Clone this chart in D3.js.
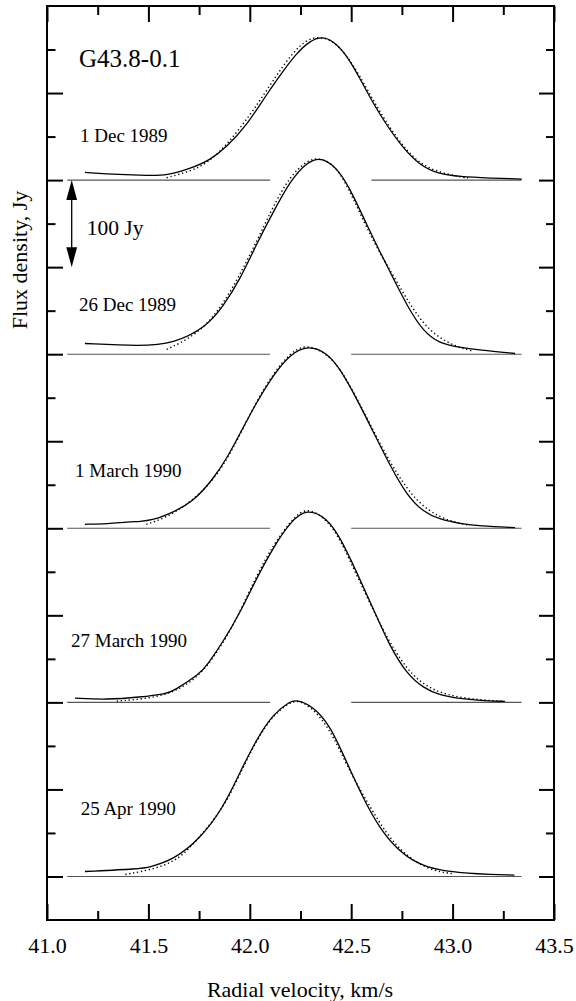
<!DOCTYPE html>
<html>
<head>
<meta charset="utf-8">
<script src="https://cdn.jsdelivr.net/npm/d3@7"></script>
<style>
  html, body { margin: 0; padding: 0; background: #fff; }
  svg text { font-family: "Liberation Serif", "Times New Roman", serif !important; fill: #000; }
</style>
</head>
<body>
<svg id="chart" width="576" height="1001"></svg>
<script>
// ---------------- DATA ----------------
const sourceName = "G43.8-0.1";
const dates = ["1 Dec 1989", "26 Dec 1989", "1 March 1990", "27 March 1990", "25 Apr 1990"];
const offsets = [800, 600, 400, 200, 0];            // vertical offset of each spectrum, Jy
const velocityTicks = [41.0, 41.5, 42.0, 42.5, 43.0, 43.5];
const velocityMinorTicks = [41.25, 41.75, 42.25, 42.75, 43.25];
const fluxMajorTicks = [0, 100, 200, 300, 400, 500, 600, 700, 800, 900];
const fluxMinorTicks = [50, 150, 250, 350, 450, 550, 650, 750, 850, 950];
const scaleBarJy = 100;

// baseline segments [vStart, vEnd] for each spectrum
const baselineSpans = [
  [[41.1, 42.1], [42.6, 43.34]],
  [[41.1, 42.1], [42.5, 43.34]],
  [[41.1, 42.1], [42.5, 43.34]],
  [[41.1, 42.1], [42.5, 43.34]],
  [[41.1, 43.34]]
];

// observed spectra: [radial velocity km/s, flux Jy]
const obsDec1 = [[41.187, 8.8], [41.36, 6.2], [41.50, 5.4], [41.59, 5.3], [41.705, 13], [41.804, 23], [41.886, 38],
  [41.985, 63], [42.075, 95.6], [42.149, 120.5], [42.231, 146], [42.297, 160], [42.355, 165], [42.412, 160],
  [42.478, 143.5], [42.543, 116.7], [42.609, 88], [42.675, 63], [42.757, 36.4], [42.839, 17.2], [42.922, 7.7],
  [43.036, 3.8], [43.184, 2.3], [43.341, 1.2]];
const obsDec26 = [[41.187, 12.3], [41.459, 9.2], [41.623, 12], [41.787, 31.4], [41.869, 55], [41.952, 86], [42.034, 127],
  [42.116, 163.4], [42.198, 198.5], [42.281, 221], [42.359, 227], [42.445, 210], [42.510, 182.5], [42.578, 148],
  [42.642, 117.5], [42.708, 86.9], [42.774, 56.3], [42.856, 25.6], [42.938, 12.3], [43.020, 8.4], [43.135, 4.6], [43.308, 0.8]];
const obsMar1 = [[41.187, 4.6], [41.30, 5.0], [41.40, 7.5], [41.46, 7.8], [41.52, 9.5], [41.59, 15], [41.721, 30], [41.82, 57],
  [41.886, 80], [41.952, 109], [42.034, 145], [42.116, 176], [42.198, 200], [42.288, 210.5], [42.379, 202],
  [42.445, 183.4], [42.527, 149], [42.609, 110.6], [42.691, 72.3], [42.774, 38], [42.856, 18.7], [42.938, 10],
  [43.036, 5.4], [43.135, 2.5], [43.308, 0.8]];
const obsMar27 = [[41.138, 4.9], [41.294, 3.1], [41.459, 6], [41.59, 10], [41.623, 13], [41.754, 33], [41.787, 42],
  [41.869, 70], [41.952, 103], [42.034, 143], [42.116, 178], [42.198, 207], [42.281, 223], [42.379, 212],
  [42.445, 190], [42.527, 149.6], [42.609, 107.6], [42.691, 64], [42.774, 33], [42.856, 16.5], [42.938, 8],
  [43.036, 4.2], [43.135, 2.3], [43.258, 1.1]];
const obsApr25 = [[41.187, 5.7], [41.459, 8.8], [41.503, 10.6], [41.623, 19], [41.754, 43], [41.869, 79],
  [41.952, 120], [42.034, 158], [42.116, 187], [42.198, 201], [42.231, 203], [42.313, 195.5], [42.396, 173.4],
  [42.478, 131.2], [42.56, 89.2], [42.642, 54.8], [42.724, 31.8], [42.823, 14.6], [42.938, 6.9], [43.036, 4.5],
  [43.10, 3.2], [43.305, 1.5]];

// fitted profiles (dotted)
const fitDec1 = [[41.59, 2.7], [41.705, 10], [41.788, 19], [41.886, 40], [42.001, 74.6], [42.083, 103], [42.165, 132],
  [42.248, 156], [42.321, 165.5], [42.396, 162], [42.461, 149], [42.543, 120], [42.626, 84], [42.724, 48],
  [42.823, 21], [42.922, 9.5], [43.036, 3.8], [43.076, 2.5]];
const fitDec26 = [[41.59, 5.5], [41.787, 27.6], [41.952, 88.7], [42.116, 171], [42.198, 204], [42.281, 222.5],
  [42.338, 226], [42.429, 217], [42.510, 178.8], [42.609, 129], [42.708, 90], [42.79, 57], [42.872, 30],
  [42.971, 13], [43.07, 5], [43.10, 3.8]];
const fitMar1 = [[41.49, 4.5], [41.62, 15], [41.787, 45], [41.886, 78], [41.952, 108], [42.034, 146], [42.116, 178],
  [42.198, 201], [42.264, 210], [42.33, 207], [42.412, 194], [42.478, 171], [42.56, 135], [42.642, 97], [42.724, 63],
  [42.823, 30], [42.938, 12], [43.036, 5.4], [43.08, 3.5]];
const fitMar27 = [[41.344, 1.5], [41.59, 6], [41.754, 29], [41.869, 68], [41.952, 104], [42.034, 146], [42.116, 181],
  [42.198, 207], [42.248, 219], [42.30, 222], [42.379, 210], [42.445, 188], [42.527, 146], [42.609, 106], [42.675, 75],
  [42.774, 37], [42.889, 13.8], [43.053, 4.2], [43.249, 1.1]];
const fitApr25 = [[41.386, 2.3], [41.623, 12.6], [41.738, 41.3], [41.869, 78], [41.952, 118], [42.034, 157],
  [42.116, 186], [42.214, 203], [42.264, 200], [42.33, 189], [42.412, 161.9], [42.494, 119.7], [42.578, 86],
  [42.675, 48], [42.774, 23], [42.889, 6.9], [43.003, 3.1]];

const observed = [obsDec1, obsDec26, obsMar1, obsMar27, obsApr25];
const fitted = [fitDec1, fitDec26, fitMar1, fitMar27, fitApr25];

// ---------------- LAYOUT ----------------
const FONT = "'Liberation Serif', 'Times New Roman', serif";
const svg = d3.select("#chart");
const L = 47, R = 554, T = 6, B = 920;
const x = d3.scaleLinear().domain([41.0, 43.5]).range([L, R]);
const y = d3.scaleLinear().domain([-50, 1000]).range([B, T]);

// date label positions (pixel layout)
const labelPos = [[80, 141.7], [79, 310.7], [75, 477], [71, 646.7], [80.7, 815]];

// baselines
baselineSpans.forEach((spans, i) => {
  spans.forEach(s => {
    svg.append("line")
      .attr("x1", x(s[0])).attr("x2", x(s[1]))
      .attr("y1", y(offsets[i])).attr("y2", y(offsets[i]))
      .attr("stroke", "#555").attr("stroke-width", 1.1);
  });
});

// spectra
const mkLine = off => d3.line()
  .x(d => x(d[0]))
  .y(d => y(d[1] + off))
  .curve(d3.curveBasis);

fitted.forEach((s, i) => {
  svg.append("path").datum(s)
    .attr("d", mkLine(offsets[i]))
    .attr("fill", "none").attr("stroke", "#000")
    .attr("stroke-width", 1.4).attr("stroke-dasharray", "1.3,2.7");
});
observed.forEach((s, i) => {
  svg.append("path").datum(s)
    .attr("d", mkLine(offsets[i]))
    .attr("fill", "none").attr("stroke", "#000")
    .attr("stroke-width", 1.3);
});

// axes
function styleAxis(g) {
  g.select(".domain").remove();
  g.attr("font-family", FONT);
  g.selectAll(".tick line").attr("stroke", "#000").attr("stroke-width", 2);
}
svg.append("g").attr("transform", `translate(0,${B})`)
  .call(d3.axisBottom(x).tickValues(velocityTicks).tickSize(-16).tickFormat(d3.format(".1f")))
  .call(styleAxis)
  .call(g => g.selectAll("text").attr("y", 33).attr("dy", null)
    .attr("font-family", FONT).style("font-size", "22px"));
svg.append("g").attr("transform", `translate(0,${B})`)
  .call(d3.axisBottom(x).tickValues(velocityMinorTicks).tickSize(-9).tickFormat(""))
  .call(styleAxis);
svg.append("g").attr("transform", `translate(0,${T})`)
  .call(d3.axisTop(x).tickValues(velocityTicks).tickSize(-16).tickFormat(""))
  .call(styleAxis);
svg.append("g").attr("transform", `translate(0,${T})`)
  .call(d3.axisTop(x).tickValues(velocityMinorTicks).tickSize(-9).tickFormat(""))
  .call(styleAxis);
svg.append("g").attr("transform", `translate(${L},0)`)
  .call(d3.axisLeft(y).tickValues(fluxMajorTicks).tickSize(-16).tickFormat(""))
  .call(styleAxis);
svg.append("g").attr("transform", `translate(${L},0)`)
  .call(d3.axisLeft(y).tickValues(fluxMinorTicks).tickSize(-8.5).tickFormat(""))
  .call(styleAxis);
svg.append("g").attr("transform", `translate(${R},0)`)
  .call(d3.axisRight(y).tickValues(fluxMajorTicks).tickSize(-15).tickFormat(""))
  .call(styleAxis);
svg.append("g").attr("transform", `translate(${R},0)`)
  .call(d3.axisRight(y).tickValues(fluxMinorTicks).tickSize(-8).tickFormat(""))
  .call(styleAxis);

// frame
svg.append("rect").attr("x", L).attr("y", T).attr("width", R - L).attr("height", B - T)
  .attr("fill", "none").attr("stroke", "#000").attr("stroke-width", 2);

// texts
svg.append("text").attr("x", 79).attr("y", 66.7).attr("font-family", FONT).style("font-size", "25px").text(sourceName);
dates.forEach((d, i) => {
  svg.append("text").attr("x", labelPos[i][0]).attr("y", labelPos[i][1])
    .attr("font-family", FONT).style("font-size", "19px").text(d);
});
svg.append("text").attr("x", 300).attr("y", 997).attr("text-anchor", "middle")
  .attr("font-family", FONT).style("font-size", "22px").text("Radial velocity, km/s");
svg.append("text").attr("transform", "translate(27,260) rotate(-90)").attr("text-anchor", "middle")
  .attr("font-family", FONT).style("font-size", "22px").text("Flux density, Jy");

// 100 Jy scale arrow
const ax = 71.7, yTop = y(offsets[0]), yBot = y(offsets[0] - scaleBarJy);
const headL = 20, headW = 5.4;
svg.append("line").attr("x1", ax).attr("x2", ax).attr("y1", yTop + headL - 2).attr("y2", yBot - headL + 2)
  .attr("stroke", "#000").attr("stroke-width", 1.3);
svg.append("path").attr("d", `M${ax},${yTop} L${ax - headW},${yTop + headL} L${ax + headW},${yTop + headL} Z`).attr("fill", "#000");
svg.append("path").attr("d", `M${ax},${yBot} L${ax - headW},${yBot - headL} L${ax + headW},${yBot - headL} Z`).attr("fill", "#000");
svg.append("text").attr("x", 86.7).attr("y", 235).attr("font-family", FONT).style("font-size", "21.5px").text(scaleBarJy + " Jy");
</script>
</body>
</html>
